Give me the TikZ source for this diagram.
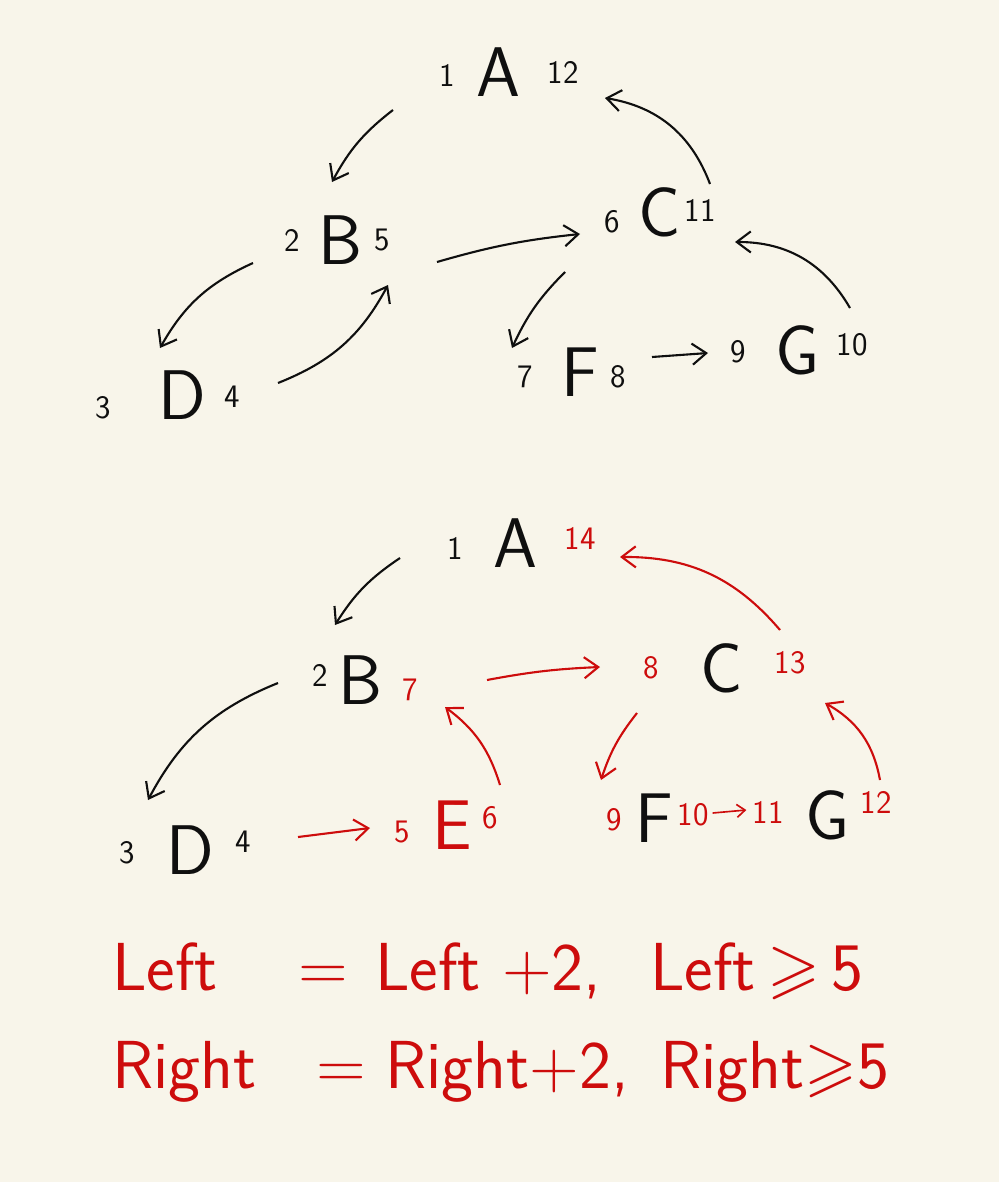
\documentclass[tikz,border=0pt]{standalone}
\usepackage{amssymb}
\usetikzlibrary{arrows.meta}
\definecolor{bg}{RGB}{248,245,234}
\definecolor{pen}{RGB}{15,15,15}
\definecolor{redpen}{RGB}{205,12,12}
\begin{document}
\begin{tikzpicture}[x=0.03cm,y=-0.03cm,
  letter/.style={font=\fontsize{60}{60}\selectfont\sffamily, inner sep=0pt, text=pen},
  rletter/.style={letter, text=redpen},
  num/.style={font=\fontsize{28}{28}\selectfont\sffamily, inner sep=0pt, text=pen},
  rnum/.style={num, text=redpen},
  arr/.style={draw=pen, line width=1.8pt, -{Straight Barb[length=12pt,width=18pt,line width=1.8pt]}},
  rarr/.style={arr, draw=redpen},
  sarr/.style={rarr, line width=1.4pt, -{Straight Barb[length=7pt,width=11pt,line width=1.4pt]}},
  formula/.style={font=\fontsize{58}{58}\selectfont\sffamily, text=redpen, inner sep=0pt, anchor=base west}]
\fill[bg] (0,0) rectangle (999,1182);
\useasboundingbox (0,0) rectangle (999,1182);
% ---------- top tree ----------
\node[letter] (tA) at (498,72) {A};
\node[num] (tA1) at (447,75) {1};
\node[num] (tA12) at (563,72) {12};
\node[letter] (tB) at (340,240) {B};
\node[num] (tB2) at (292,240) {2};
\node[num] (tB5) at (382,240) {5};
\node[letter] (tC) at (660,212) {C};
\node[num] (tC6) at (612,222) {6};
\node[num] (tC11) at (700,210) {11};
\node[letter] (tD) at (182,395) {D};
\node[num] (tD3) at (103,408) {3};
\node[num] (tD4) at (232,397) {4};
\node[letter] (tF) at (580,372) {F};
\node[num] (tF7) at (525,377) {7};
\node[num] (tF8) at (618,377) {8};
\node[letter] (tG) at (798,350) {G};
\node[num] (tG9) at (738,352) {9};
\node[num] (tG10) at (852,345) {10};
\draw[arr] ([shift={(-105,38)}]tA.center) to[bend right=12] ([shift={(-8,-58)}]tB.center);
\draw[arr] ([shift={(-87,23)}]tB.center) to[bend right=18] ([shift={(-22,-47)}]tD.center);
\draw[arr] ([shift={(96,-12)}]tD.center) to[bend right=20] ([shift={(48,45)}]tB.center);
\draw[arr] ([shift={(97,22)}]tB.center) to[bend left=5] ([shift={(-80,22)}]tC.center);
\draw[arr] ([shift={(-95,60)}]tC.center) to[bend right=10] ([shift={(-68,-24)}]tF.center);
\draw[arr] ([shift={(72,-15)}]tF.center) -- ([shift={(-90,3)}]tG.center);
\draw[arr] ([shift={(52,-42)}]tG.center) to[bend right=30] ([shift={(75,30)}]tC.center);
\draw[arr] ([shift={(50,-28)}]tC.center) to[bend right=30] ([shift={(107,26)}]tA.center);
% ---------- bottom tree ----------
\node[letter] (bA) at (515,543) {A};
\node[num] (bA1) at (455,548) {1};
\node[rnum] (bA14) at (580,538) {14};
\node[letter] (bB) at (360,680) {B};
\node[num] (bB2) at (320,675) {2};
\node[rnum] (bB7) at (410,690) {7};
\node[letter] (bC) at (722,668) {C};
\node[rnum] (bC8) at (651,668) {8};
\node[rnum] (bC13) at (790,663) {13};
\node[letter] (bD) at (190,850) {D};
\node[num] (bD3) at (127,853) {3};
\node[num] (bD4) at (243,842) {4};
\node[rletter] (bE) at (452,825) {E};
\node[rnum] (bE5) at (402,832) {5};
\node[rnum] (bE6) at (490,818) {6};
\node[letter] (bF) at (654,818) {F};
\node[rnum] (bF9) at (614,820) {9};
\node[rnum] (bF10) at (693,815) {10};
\node[letter] (bG) at (828,815) {G};
\node[rnum] (bG11) at (768,812) {11};
\node[rnum] (bG12) at (876,802) {12};
\draw[arr] ([shift={(-115,15)}]bA.center) to[bend right=12] ([shift={(-25,-55)}]bB.center);
\draw[arr] ([shift={(-82,3)}]bB.center) to[bend right=20] ([shift={(-42,-50)}]bD.center);
\draw[rarr] ([shift={(108,-13)}]bD.center) -- ([shift={(-82,3)}]bE.center);
\draw[rarr] ([shift={(48,-40)}]bE.center) to[bend right=18] ([shift={(85,27)}]bB.center);
\draw[rarr] ([shift={(127,0)}]bB.center) to[bend left=4] ([shift={(-122,-1)}]bC.center);
\draw[rarr] ([shift={(-85,45)}]bC.center) to[bend right=10] ([shift={(-53,-38)}]bF.center);
\draw[sarr] ([shift={(4,-2)}]bF10.east) -- ([shift={(-6,-2)}]bG11.west);
\draw[rarr] ([shift={(52,-35)}]bG.center) to[bend right=25] ([shift={(35,40)}]bC13.center);
\draw[rarr] ([shift={(-10,-33)}]bC13.center) to[bend right=25] ([shift={(40,19)}]bA14.center);
% ---------- formulas ----------
\node[formula] (l1) at (112,990) {Left};
\node[formula] (l2) at (298,990) {=};
\node[formula] (l3) at (375,990) {Left +2,};
\node[formula] (l4) at (650,990) {Left\,$\geqslant$\,5};
\node[formula] (r1) at (112,1088) {Right};
\node[formula] (r2) at (316,1088) {=};
\node[formula] (r3) at (385,1088) {Right+2,};
\node[formula] (r4) at (660,1088) {Right$\geqslant$5};
\end{tikzpicture}
\end{document}
